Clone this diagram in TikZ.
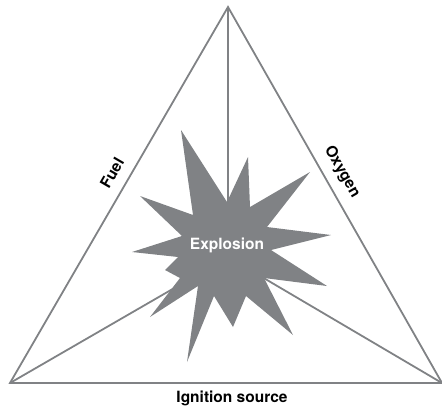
\documentclass[tikz,border=0pt]{standalone}
\usepackage{fontspec}
\setmainfont{TeX Gyre Heros}

\begin{document}
\begin{tikzpicture}[x=1pt,y=-1pt,font=\bfseries\fontsize{15.5}{18}\selectfont]

% --- colors ---
\definecolor{cEdge} {HTML}{808285}
\definecolor{cBlast}{HTML}{808285}

\useasboundingbox (0,0) rectangle (442,408);

% --- corners + centre ---
\coordinate (apex)  at (228,7);
\coordinate (baseL) at (10,383);
\coordinate (baseR) at (442,383);
\coordinate (mid)   at (228,257);

% --- triangle + spokes ---
\draw[cEdge, line width=1.8pt, line join=miter] (apex) -- (baseL) -- (baseR) -- cycle;
\foreach \v in {apex,baseL,baseR}
  \draw[cEdge, line width=1.8pt] (\v) -- (mid);

% --- burst ---
\fill[cBlast] plot coordinates {
  (181,130) (227,202) (248,157) (250,207) (310,172) (267,227)
  (331,235) (271,250) (327,286) (264,278) (293,335) (246,296)
  (233,327) (214,296) (187,362) (198,286) (150,317) (180,278)
  (165,270) (178,257) (132,252) (182,236) (140,196) (193,215)
} -- cycle;
\node[text=white] (blast) at (227,245) {Explosion};

% --- side labels ---
\node[rotate=60]  (fuel)     at (112,173) {Fuel};
\node[rotate=-60] (oxygen)   at (342,172) {Oxygen};
\node             (ignition) at (232,398) {Ignition source};

\end{tikzpicture}
\end{document}
